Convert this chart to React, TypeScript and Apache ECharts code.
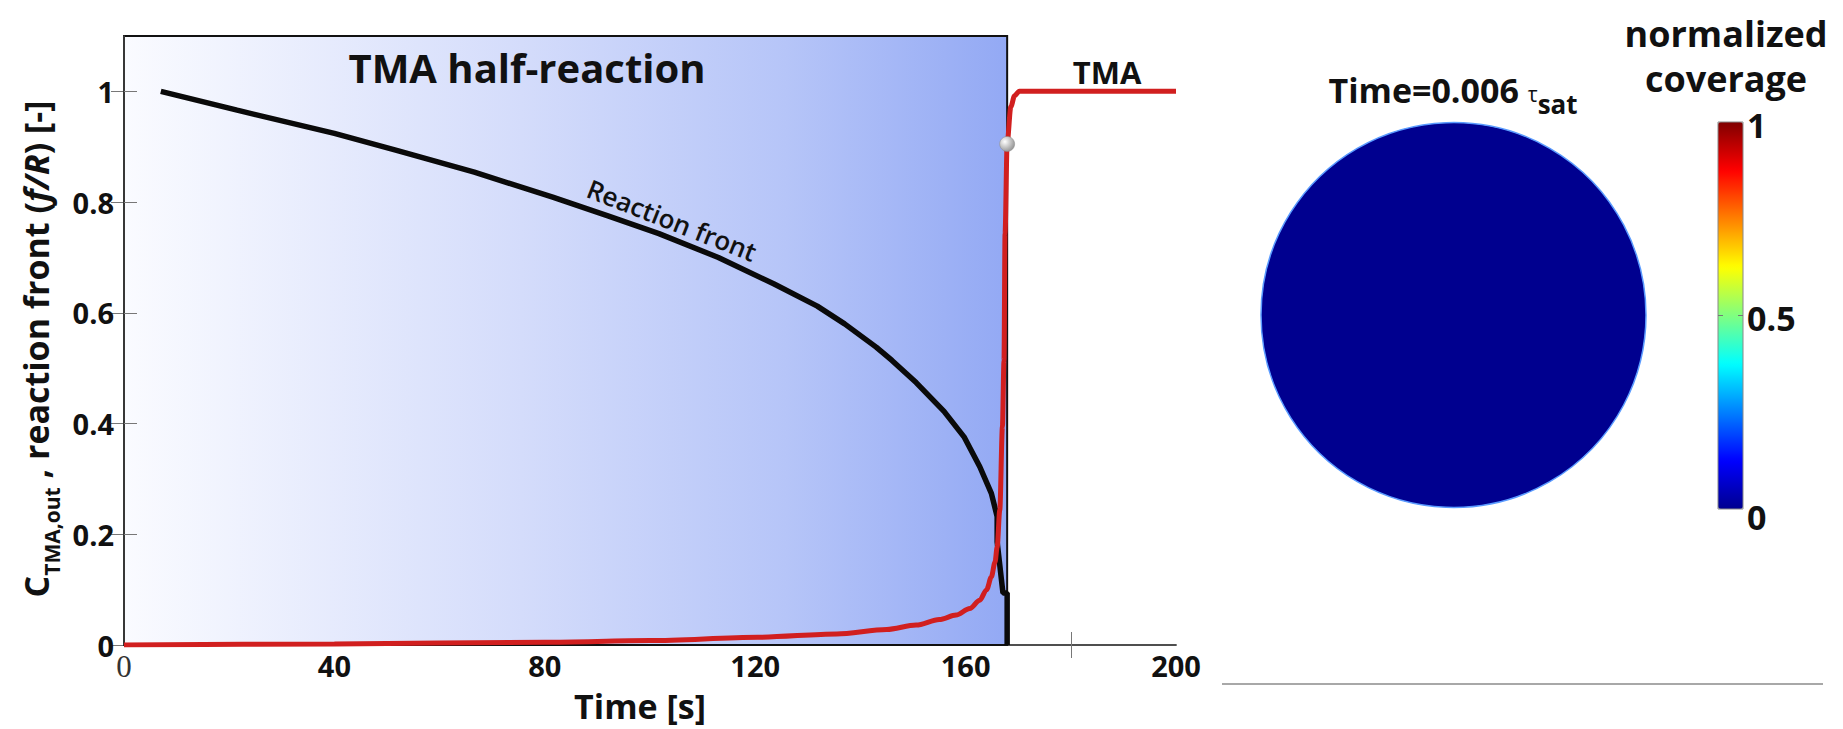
import React, { useEffect, useRef } from "react";
import * as echarts from "echarts";

// ---- data ----
const xTicks = [0, 40, 80, 120, 160, 200];
const xInnerTicks = [180];
const yTicks = [0, 0.2, 0.4, 0.6, 0.8, 1];
const X_MAX = 200;
const Y_MAX = 1.1;

// reaction front f/R vs time
const frontTime = [7, 21.5, 40, 52, 66.6, 81.5, 92, 101.7, 113, 123.6, 131.8, 137, 143, 146, 150.6, 155.9, 159.7, 162.7, 164.9, 166, 166, 167.1, 167.9, 167.9];
const frontValue = [1.0, 0.966, 0.924, 0.893, 0.854, 0.809, 0.775, 0.743, 0.7, 0.652, 0.612, 0.58, 0.538, 0.514, 0.474, 0.422, 0.376, 0.322, 0.274, 0.232, 0.186, 0.094, 0.094, 0];

// C_TMA,out vs time
const concTime = [0, 40, 80, 100, 120.5, 135.5, 145, 150.6, 155, 158.2, 160.8, 162.7, 164, 164.9, 165.6, 166, 166.5, 167, 167.3, 167.5, 167.9, 168.6, 169.3, 170.2, 200];
const concValue = [0, 0.002, 0.005, 0.008, 0.014, 0.02, 0.028, 0.036, 0.046, 0.054, 0.066, 0.081, 0.1, 0.123, 0.15, 0.177, 0.244, 0.394, 0.514, 0.743, 0.906, 0.972, 0.992, 1.0, 1.0];

const halfReactionEnd = 167.9;
const currentPoint = [167.9, 0.905];
const coverageMap = [[0, 0, 0]]; // uniform coverage 0 over the disc
const colorbarTicks = [0, 0.5, 1];
const jetColors = ["#00008f", "#0000ff", "#0080ff", "#00ffff", "#80ff80", "#ffff00", "#ff8000", "#ff0000", "#800000"];

const FONT = "'Open Sans', sans-serif";

export default function App() {
  const ref = useRef<HTMLDivElement>(null);
  useEffect(() => {
    const chart = echarts.init(ref.current!, null, { renderer: "svg" });
    const gridLeft = 124, gridTop = 36, gridW = 1052, gridH = 609;
    const tickStyle = { color: "#777", width: 1 };
    const center = { align: "center", verticalAlign: "middle", textAlign: "center", textVerticalAlign: "middle" };
    const option: any = {
      animation: false,
      backgroundColor: "#fff",
      grid: [
        { left: gridLeft, top: gridTop, width: gridW, height: gridH, show: false },
        { left: 1261, top: 122, width: 385, height: 386, show: false },
      ],
      xAxis: [
        {
          type: "value", gridIndex: 0, min: 0, max: X_MAX, interval: 40, position: "bottom",
          axisLine: { show: true, lineStyle: { color: "#444", width: 1.5 } },
          axisTick: { show: true, inside: true, length: 13, lineStyle: tickStyle, customValues: xInnerTicks },
          splitLine: { show: false },
          axisLabel: {
            interval: 0, margin: 6, fontSize: 29, fontWeight: "bold", fontFamily: FONT, color: "#111",
            formatter: (v: number) => (v === 0 ? "{s|0}" : xTicks.includes(v) ? String(v) : ""),
            rich: { s: { fontFamily: "'Liberation Serif', serif", fontWeight: "normal", fontSize: 31, color: "#333" } },
          },
        },
        {
          type: "value", gridIndex: 0, min: 0, max: X_MAX, interval: 40, position: "top",
          axisLine: { show: true, lineStyle: { color: "#444", width: 1.5 } },
          axisTick: { show: true, inside: true, length: 13, lineStyle: tickStyle, customValues: xInnerTicks },
          axisLabel: { show: false }, splitLine: { show: false },
        },
        { type: "value", gridIndex: 1, min: -1, max: 1, show: false },
      ],
      yAxis: [
        {
          type: "value", gridIndex: 0, min: 0, max: Y_MAX, interval: 0.2, position: "left", z: 5,
          axisLine: { show: true, lineStyle: { color: "#444", width: 1.5 } },
          axisTick: { show: true, inside: true, length: 13, lineStyle: tickStyle, customValues: yTicks },
          splitLine: { show: false },
          axisLabel: {
            margin: 10, fontSize: 29, fontWeight: "bold", fontFamily: FONT, color: "#111",
            formatter: (v: number) => {
              const t = yTicks.find((y) => Math.abs(y - v) < 1e-6);
              return t === undefined ? "" : String(t);
            },
          },
        },
        {
          type: "value", gridIndex: 0, min: 0, max: Y_MAX, interval: 0.2, position: "right",
          axisLine: { show: true, lineStyle: { color: "#444", width: 1.5 } },
          axisTick: { show: true, inside: true, length: 13, lineStyle: tickStyle, customValues: yTicks },
          axisLabel: { show: false }, splitLine: { show: false },
        },
        { type: "value", gridIndex: 1, min: -1, max: 1, show: false },
      ],
      visualMap: {
        type: "continuous", min: 0, max: 1, dimension: 2, seriesIndex: 3, orient: "vertical",
        left: 1718, top: 122, itemWidth: 25, itemHeight: 387, padding: 0,
        calculable: false, hoverLink: false, text: null,
        inRange: { color: jetColors },
      },
      series: [
        {
          type: "line", name: "Reaction front", xAxisIndex: 0, yAxisIndex: 0,
          data: frontTime.map((t, i) => [t, frontValue[i]]),
          showSymbol: false, lineStyle: { color: "#0a0a0a", width: 5.5 }, z: 6,
          markArea: {
            silent: true,
            itemStyle: {
              color: {
                type: "linear", x: 0, y: 0, x2: 1, y2: 0,
                colorStops: [
                  { offset: 0, color: "#fafbff" },
                  { offset: 0.45, color: "#d4dcfb" },
                  { offset: 0.75, color: "#b6c5f8" },
                  { offset: 1, color: "#93a9f4" },
                ],
              },
              borderColor: "#111", borderWidth: 2,
            },
            data: [[{ xAxis: 0, yAxis: 0 }, { xAxis: halfReactionEnd, yAxis: Y_MAX }]],
          },
        },
        {
          type: "line", name: "C_TMA,out", xAxisIndex: 0, yAxisIndex: 0,
          data: concTime.map((t, i) => [t, concValue[i]]),
          showSymbol: false, smooth: 0.3, smoothMonotone: "x",
          lineStyle: { color: "#d11f1f", width: 5 }, z: 7,
        },
        {
          type: "scatter", xAxisIndex: 0, yAxisIndex: 0, data: [currentPoint], symbol: "circle", symbolSize: 15, z: 8,
          itemStyle: {
            opacity: 1,
            color: { type: "radial", x: 0.35, y: 0.35, r: 0.75, colorStops: [{ offset: 0, color: "#ffffff" }, { offset: 1, color: "#8c8c8c" }] },
            borderColor: "#8a8a8a", borderWidth: 0.5,
          },
        },
        {
          type: "scatter", xAxisIndex: 2, yAxisIndex: 2, data: coverageMap, symbol: "circle", symbolSize: 385,
          itemStyle: { opacity: 1, borderColor: "#5a9bff", borderWidth: 1.5 },
        },
      ],
      graphic: [
        { type: "text", x: 527, y: 67, z: 10, style: { text: "TMA half-reaction", font: `bold 40px ${FONT}`, fill: "#111", ...center } },
        { type: "text", x: 1107, y: 72, z: 10, style: { text: "TMA", font: `bold 31px ${FONT}`, fill: "#111", ...center } },
        { type: "text", x: 672, y: 220, rotation: -0.375, z: 10, style: { text: "Reaction front", font: `600 26px ${FONT}`, fill: "#111", ...center } },
        { type: "text", x: 640, y: 706, z: 10, style: { text: "Time [s]", font: `bold 34px ${FONT}`, fill: "#111", ...center } },
        {
          type: "text", x: 36, y: 349, rotation: Math.PI / 2, z: 10,
          style: {
            text: "{m|C}{s|TMA,out}{m| , reaction front (}{i|f/R}{m|) [-]}",
            ...center,
            rich: {
              m: { fontSize: 34, fontWeight: "bold", fontFamily: FONT, fill: "#111", color: "#111", lineHeight: 40, verticalAlign: "middle" },
              s: { fontSize: 21, fontWeight: "bold", fontFamily: FONT, fill: "#111", color: "#111", lineHeight: 52, verticalAlign: "bottom" },
              i: { fontSize: 34, fontWeight: "bold", fontStyle: "italic", fontFamily: FONT, fill: "#111", color: "#111", lineHeight: 40, verticalAlign: "middle" },
            },
          },
        },
        {
          type: "text", x: 1453, y: 90, z: 10,
          style: {
            text: "{m|Time=0.006 }{t|τ}{s|sat}",
            ...center,
            rich: {
              m: { fontSize: 34, fontWeight: "bold", fontFamily: FONT, fill: "#111", color: "#111", lineHeight: 42, verticalAlign: "middle" },
              t: { fontSize: 21, fontFamily: FONT, fill: "#111", color: "#111", lineHeight: 42, verticalAlign: "middle", padding: [8, 0, 0, 0] },
              s: { fontSize: 26, fontWeight: "bold", fontFamily: FONT, fill: "#111", color: "#111", lineHeight: 54, verticalAlign: "bottom" },
            },
          },
        },
        { type: "text", x: 1726, y: 33, z: 10, style: { text: "normalized", font: `bold 36px ${FONT}`, fill: "#111", ...center } },
        { type: "text", x: 1726, y: 78, z: 10, style: { text: "coverage", font: `bold 36px ${FONT}`, fill: "#111", ...center } },
        { type: "rect", shape: { x: 1718, y: 122, width: 25, height: 387 }, z: 10, style: { fill: "none", stroke: "#888", lineWidth: 1 } },
        { type: "line", shape: { x1: 1718, y1: 315.5, x2: 1723, y2: 315.5 }, z: 10, style: { stroke: "#777", lineWidth: 1 } },
        { type: "line", shape: { x1: 1738, y1: 315.5, x2: 1743, y2: 315.5 }, z: 10, style: { stroke: "#777", lineWidth: 1 } },
        ...colorbarTicks.map((v) => ({
          type: "text", x: 1747, y: 509 - v * 387 + (v === 1 ? 3 : v === 0 ? 8 : 2), z: 10,
          style: { text: String(v), font: `bold 34px ${FONT}`, fill: "#111", align: "left", verticalAlign: "middle", textAlign: "left", textVerticalAlign: "middle" },
        })),
        { type: "line", shape: { x1: 1222, y1: 684, x2: 1823, y2: 684 }, z: 10, style: { stroke: "#a8a8a8", lineWidth: 2 } },
      ],
    };
    chart.setOption(option);
    return () => chart.dispose();
  }, []);
  return <div ref={ref} style={{ position: "absolute", left: 0, top: 0, width: 1843, height: 729, background: "#fff" }} />;
}
